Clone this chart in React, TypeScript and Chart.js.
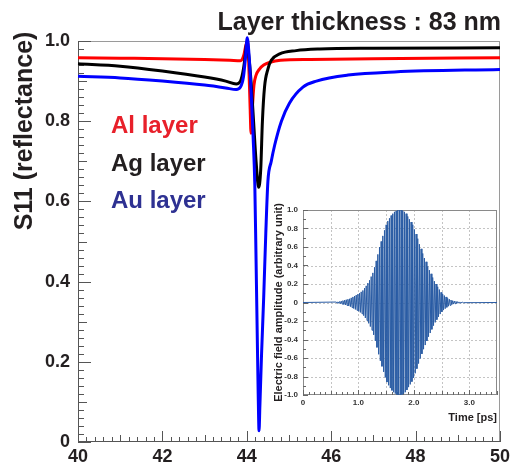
import React, { useEffect, useRef } from "react";
import { Chart, registerables } from "chart.js";
Chart.register(...registerables);

const FONT = '"Liberation Sans", Arial, Helvetica, sans-serif';

// ---- main chart data (frequency vs S11) ----
const alFreq = [40, 41, 42, 43, 43.6, 43.85, 43.93, 43.98, 44.02, 44.05, 44.08, 44.1, 44.13, 44.17, 44.22, 44.3, 44.4, 44.55, 44.8, 45.5, 47, 50];
const alS11 = [0.958, 0.957, 0.956, 0.954, 0.952, 0.951, 0.965, 0.99, 1.0, 0.93, 0.83, 0.77, 0.83, 0.89, 0.915, 0.93, 0.94, 0.947, 0.952, 0.954, 0.956, 0.958];

const agFreq = [40, 41, 42, 43, 43.5, 43.75, 43.85, 43.92, 43.97, 44.0, 44.04, 44.1, 44.16, 44.22, 44.28, 44.33, 44.37, 44.42, 44.5, 44.58, 44.78, 45.17, 45.73, 47, 50];
const agS11 = [0.943, 0.937, 0.925, 0.91, 0.9, 0.893, 0.9, 0.93, 0.97, 0.998, 0.97, 0.9, 0.8, 0.7, 0.635, 0.68, 0.8, 0.885, 0.93, 0.952, 0.968, 0.976, 0.98, 0.982, 0.983];

const auFreq = [40, 41, 42, 43, 43.5, 43.75, 43.85, 43.92, 43.97, 44.01, 44.05, 44.1, 44.15, 44.19, 44.22, 44.25, 44.27, 44.29, 44.31, 44.35, 44.4, 44.45, 44.5, 44.58, 44.66, 44.82, 45.01, 45.33, 45.65, 46.4, 47.5, 50];
const auS11 = [0.912, 0.908, 0.9, 0.89, 0.883, 0.879, 0.885, 0.91, 0.96, 1.008, 0.97, 0.88, 0.76, 0.64, 0.45, 0.25, 0.12, 0.028, 0.09, 0.22, 0.36, 0.52, 0.65, 0.7, 0.74, 0.8, 0.845, 0.885, 0.9, 0.915, 0.923, 0.929];

const seriesLabels = ["Al layer", "Ag layer", "Au layer"];
const seriesLineColors = ["#ff0000", "#000000", "#0000ff"];
const seriesTextColors = ["#e8202a", "#231f20", "#2e3192"];

const xTickStep = 2;
const yTickStep = 0.2;

// ---- inset data: electric field pulse (half-cycle peak amplitudes) ----
const pulseStart = 0.6; // ps, first peak
const pulseStep = 0.015; // ps between successive peaks
const pulseAmp = [
  0.005, -0.006, 0.007, -0.008, 0.01, -0.012, 0.015, -0.017, 0.02, -0.022,
  0.025, -0.027, 0.03, -0.032, 0.035, -0.037, 0.04, -0.045, 0.05, -0.055,
  0.06, -0.065, 0.07, -0.075, 0.08, -0.085, 0.09, -0.095, 0.1, -0.107,
  0.115, -0.122, 0.13, -0.142, 0.155, -0.167, 0.18, -0.195, 0.21, -0.225,
  0.24, -0.26, 0.28, -0.3, 0.32, -0.35, 0.38, -0.415, 0.45, -0.485,
  0.52, -0.56, 0.6, -0.63, 0.66, -0.69, 0.72, -0.75, 0.78, -0.81,
  0.84, -0.86, 0.88, -0.895, 0.91, -0.925, 0.94, -0.95, 0.96, -0.97,
  0.98, -0.985, 0.99, -0.995, 1.0, -1.0, 1.0, -1.0, 1.0, -0.995,
  0.99, -0.985, 0.98, -0.97, 0.96, -0.945, 0.93, -0.915, 0.9, -0.885,
  0.87, -0.855, 0.84, -0.815, 0.79, -0.765, 0.74, -0.715, 0.69, -0.66,
  0.63, -0.605, 0.58, -0.555, 0.53, -0.505, 0.48, -0.46, 0.44, -0.415,
  0.39, -0.37, 0.35, -0.33, 0.31, -0.29, 0.27, -0.25, 0.23, -0.215,
  0.2, -0.185, 0.17, -0.155, 0.14, -0.125, 0.11, -0.1, 0.09, -0.082,
  0.075, -0.067, 0.06, -0.052, 0.045, -0.04, 0.035, -0.031, 0.027, -0.023,
  0.02, -0.017, 0.015, -0.013, 0.012, -0.01, 0.009, -0.007, 0.006, -0.005,
  0.004, -0.003, 0.003, -0.002,
];
const insetTimeMax = 3.5;

const TEXT = "#231f20";

function line(ctx: CanvasRenderingContext2D, x1: number, y1: number, x2: number, y2: number) {
  ctx.beginPath();
  ctx.moveTo(x1, y1);
  ctx.lineTo(x2, y2);
  ctx.stroke();
}

const mainDecor = {
  id: "mainDecor",
  beforeDatasetsDraw(chart: any) {
    const ctx = chart.ctx as CanvasRenderingContext2D;
    const { left, right, top, bottom } = chart.chartArea;
    const xs = chart.scales.x;
    const ys = chart.scales.y;
    ctx.save();
    ctx.lineWidth = 1;
    ctx.strokeStyle = "#9a9a9a";
    line(ctx, left, top + 0.5, right, top + 0.5);
    line(ctx, right - 0.5, top, right - 0.5, bottom);
    ctx.strokeStyle = "#555";
    line(ctx, left + 0.5, top, left + 0.5, bottom);
    line(ctx, left, bottom - 0.5, right, bottom - 0.5);
    for (let i = 0; i <= 50; i++) {
      const v = xs.min + (i * (xs.max - xs.min)) / 50;
      const px = Math.round(xs.getPixelForValue(v)) + 0.5;
      const len = i % 10 === 0 ? 11 : i % 5 === 0 ? 7 : 5;
      line(ctx, px, bottom, px, bottom - len);
    }
    for (let i = 0; i <= 50; i++) {
      const v = ys.min + (i * (ys.max - ys.min)) / 50;
      const py = Math.round(ys.getPixelForValue(v)) + 0.5;
      const len = i % 10 === 0 ? 13 : i % 5 === 0 ? 9 : 6;
      line(ctx, left, py, left + len, py);
    }
    ctx.restore();
  },
  afterDraw(chart: any) {
    const ctx = chart.ctx as CanvasRenderingContext2D;
    ctx.save();
    ctx.fillStyle = TEXT;
    ctx.font = `bold 25px ${FONT}`;
    ctx.textAlign = "right";
    ctx.textBaseline = "alphabetic";
    ctx.fillText("Layer thickness : 83 nm", 501, 30);

    ctx.save();
    ctx.translate(25, 131);
    ctx.rotate(-Math.PI / 2);
    ctx.textAlign = "center";
    ctx.textBaseline = "middle";
    ctx.fillText("S11 (reflectance)", 0, 0);
    ctx.restore();

    ctx.font = `bold 24px ${FONT}`;
    ctx.textAlign = "left";
    const ys = [133, 171, 208];
    seriesLabels.forEach((lab, i) => {
      ctx.fillStyle = seriesTextColors[i];
      ctx.fillText(lab, 111, ys[i]);
    });
    ctx.restore();
  },
};

const insetDecor = {
  id: "insetDecor",
  beforeDatasetsDraw(chart: any) {
    const ctx = chart.ctx as CanvasRenderingContext2D;
    const { left, right, top, bottom } = chart.chartArea;
    const xs = chart.scales.x;
    const ys = chart.scales.y;
    ctx.save();
    ctx.fillStyle = "#ffffff";
    ctx.fillRect(left, top, right - left, bottom - top);
    ctx.lineWidth = 1;
    ctx.strokeStyle = "#c4c4c4";
    ctx.setLineDash([2, 2]);
    for (let v = 0.5; v < xs.max - 1e-6; v += 0.5) {
      const px = Math.round(xs.getPixelForValue(v)) + 0.5;
      line(ctx, px, top, px, bottom);
    }
    for (let k = -4; k <= 4; k++) {
      const py = Math.round(ys.getPixelForValue(k * 0.2)) + 0.5;
      line(ctx, left, py, right, py);
    }
    ctx.setLineDash([]);
    ctx.strokeStyle = "#8a8a8a";
    ctx.strokeRect(left + 0.5, top + 0.5, right - left - 1, bottom - top - 1);
    ctx.strokeStyle = "#666";
    for (let i = 0; i <= 35; i++) {
      const px = Math.round(xs.getPixelForValue(i * 0.1)) + 0.5;
      const len = i % 10 === 0 ? 5 : i % 5 === 0 ? 4 : 3;
      line(ctx, px, bottom, px, bottom - len);
    }
    for (let i = 0; i <= 20; i++) {
      const py = Math.round(ys.getPixelForValue(-1 + i * 0.1)) + 0.5;
      const len = i % 2 === 0 ? 5 : 3;
      line(ctx, left, py, left + len, py);
    }
    ctx.restore();
  },
  afterDraw(chart: any) {
    const ctx = chart.ctx as CanvasRenderingContext2D;
    const { right, top, bottom } = chart.chartArea;
    ctx.save();
    ctx.fillStyle = TEXT;
    ctx.font = `bold 11px ${FONT}`;
    ctx.textAlign = "right";
    ctx.textBaseline = "alphabetic";
    ctx.fillText("Time [ps]", right, 221);
    ctx.save();
    ctx.translate(9, (top + bottom) / 2);
    ctx.rotate(-Math.PI / 2);
    ctx.textAlign = "center";
    ctx.textBaseline = "middle";
    ctx.fillText("Electric field amplitude (arbitrary unit)", 0, 0);
    ctx.restore();
    ctx.restore();
  },
};

export default function App() {
  const mainRef = useRef<HTMLCanvasElement>(null);
  const insetRef = useRef<HTMLCanvasElement>(null);

  useEffect(() => {
    const toPts = (xs: number[], ys: number[]) => xs.map((x, i) => ({ x, y: ys[i] }));
    const mk = (label: string, color: string, xs: number[], ys: number[]) => ({
      label,
      data: toPts(xs, ys),
      borderColor: color,
      backgroundColor: color,
      borderWidth: 3,
      pointRadius: 0,
      fill: false,
      clip: false,
      cubicInterpolationMode: "monotone" as const,
    });
    const tickFont = { family: FONT, size: 18, weight: "bold" as const };
    const main = new Chart(mainRef.current!, {
      type: "line",
      data: {
        datasets: [
          mk(seriesLabels[2], seriesLineColors[2], auFreq, auS11),
          mk(seriesLabels[1], seriesLineColors[1], agFreq, agS11),
          mk(seriesLabels[0], seriesLineColors[0], alFreq, alS11),
        ],
      },
      options: {
        responsive: false,
        maintainAspectRatio: false,
        animation: false,
        layout: { padding: { top: 41, right: 15, left: 0, bottom: 0 } },
        plugins: { legend: { display: false }, tooltip: { enabled: false }, title: { display: false } },
        scales: {
          x: {
            type: "linear",
            min: 40,
            max: 50,
            grid: { display: false, drawTicks: false },
            border: { display: false },
            ticks: { stepSize: xTickStep, font: tickFont, color: TEXT, padding: 4, maxRotation: 0, autoSkip: false },
            afterFit: (s: any) => { s.height = 24; },
          },
          y: {
            type: "linear",
            min: 0,
            max: 1,
            grid: { display: false, drawTicks: false },
            border: { display: false },
            ticks: {
              stepSize: yTickStep,
              font: tickFont,
              color: TEXT,
              padding: 8,
              callback: (v: any) => (Number(v) === 0 ? "0" : Number(v).toFixed(1)),
            },
            afterFit: (s: any) => { s.width = 78; },
          },
        },
      },
      plugins: [mainDecor],
    });

    const pulsePts = [{ x: 0, y: 0 }];
    pulseAmp.forEach((a, i) => pulsePts.push({ x: pulseStart + i * pulseStep, y: a }));
    pulsePts.push({ x: insetTimeMax, y: 0 });
    const smallFont = { family: FONT, size: 8, weight: "bold" as const };
    const inset = new Chart(insetRef.current!, {
      type: "line",
      data: {
        datasets: [
          {
            label: "pulse",
            data: pulsePts,
            borderColor: "#2a5ca4",
            borderWidth: 1,
            pointRadius: 0,
            fill: false,
            tension: 0,
          },
        ],
      },
      options: {
        responsive: false,
        maintainAspectRatio: false,
        animation: false,
        layout: { padding: { top: 10, right: 5, left: 0, bottom: 0 } },
        plugins: { legend: { display: false }, tooltip: { enabled: false } },
        scales: {
          x: {
            type: "linear",
            min: 0,
            max: insetTimeMax,
            grid: { display: false, drawTicks: false },
            border: { display: false },
            ticks: {
              stepSize: 1,
              includeBounds: false,
              font: smallFont,
              color: "#333",
              padding: 3,
              maxRotation: 0,
              autoSkip: false,
              callback: (v: any) => (Number(v) === 0 ? "0" : Number(v).toFixed(1)),
            },
            afterFit: (s: any) => { s.height = 33; },
          },
          y: {
            type: "linear",
            min: -1,
            max: 1,
            grid: { display: false, drawTicks: false },
            border: { display: false },
            ticks: {
              stepSize: 0.2,
              font: smallFont,
              color: "#333",
              padding: 5,
              autoSkip: false,
              callback: (v: any) => (Math.abs(Number(v)) < 1e-9 ? "0" : Number(v).toFixed(1)),
            },
            afterFit: (s: any) => { s.width = 33; },
          },
        },
      },
      plugins: [insetDecor],
    });

    return () => {
      main.destroy();
      inset.destroy();
    };
  }, []);

  return (
    <div style={{ position: "absolute", left: 0, top: 0, width: 515, height: 466, background: "#fff" }}>
      <canvas ref={mainRef} width={515} height={466} style={{ position: "absolute", left: 0, top: 0, width: 515, height: 466 }} />
      <canvas ref={insetRef} width={232} height={228} style={{ position: "absolute", left: 270, top: 200, width: 232, height: 228 }} />
    </div>
  );
}
